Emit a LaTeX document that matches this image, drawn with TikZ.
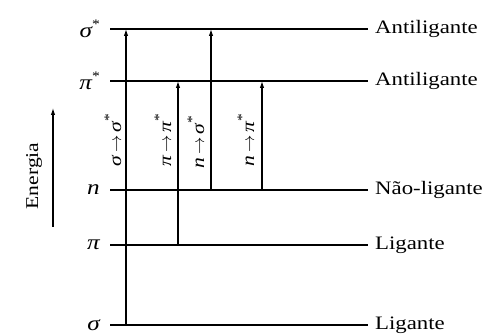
\documentclass[tikz,border=0pt]{standalone}
\usepackage{fontspec}
\setmainfont{Liberation Serif}[FakeStretch=1.2]
\usetikzlibrary{arrows.meta}
\newcommand{\st}{\raisebox{0.45em}{\upshape\fontsize{13}{13}\selectfont *}}
\newcommand{\ar}{\,$\rightarrow$\,}
\begin{document}
\begin{tikzpicture}[x=1pt,y=-1pt,
  level/.style={line width=1.1pt},
  trans/.style={line width=1.1pt,-{Latex[length=7pt,width=4.5pt]}},
  lvlname/.style={anchor=east,inner sep=0pt,font=\fontsize{21}{24}\selectfont\itshape},
  kind/.style={anchor=west,inner sep=0pt,font=\fontsize{19}{22}\selectfont},
  tlabel/.style={rotate=90,inner sep=0pt,font=\fontsize{18}{20}\selectfont\itshape}]
\useasboundingbox (0,0) rectangle (483,334);
% level line endpoints
\coordinate (ssL) at (110,29);  \coordinate (ssR) at (368,29);
\coordinate (psL) at (110,81);  \coordinate (psR) at (368,81);
\coordinate (nL)  at (110,190); \coordinate (nR)  at (368,190);
\coordinate (pL)  at (110,245); \coordinate (pR)  at (368,245);
\coordinate (sL)  at (110,325); \coordinate (sR)  at (368,325);
\draw[level] (ssL) -- (ssR);
\draw[level] (psL) -- (psR);
\draw[level] (nL) -- (nR);
\draw[level] (pL) -- (pR);
\draw[level] (sL) -- (sR);
% level names
\node[lvlname] (lss) at (100,29) {σ\st};
\node[lvlname] (lps) at (100,81) {π\st};
\node[lvlname] (ln)  at (100,190) {n};
\node[lvlname] (lp)  at (100,245) {π};
\node[lvlname] (ls)  at (100,325) {σ};
% kinds
\node[kind] (kss) at (375,29) {Antiligante};
\node[kind] (kps) at (375,81) {Antiligante};
\node[kind] (kn)  at (375,190) {Não-ligante};
\node[kind] (kp)  at (375,245) {Ligante};
\node[kind] (ks)  at (375,325) {Ligante};
% transitions
\coordinate (a1s) at (126,325); \coordinate (a1e) at (126,29);
\coordinate (a2s) at (178,245); \coordinate (a2e) at (178,81);
\coordinate (a3s) at (211,190); \coordinate (a3e) at (211,29);
\coordinate (a4s) at (262,190); \coordinate (a4e) at (262,81);
\draw[trans] (a1s) -- (a1e);
\draw[trans] (a2s) -- (a2e);
\draw[trans] (a3s) -- (a3e);
\draw[trans] (a4s) -- (a4e);
\node[tlabel] (t1) at (113,140) {σ\ar σ\st};
\node[tlabel] (t2) at (163,140) {π\ar π\st};
\node[tlabel] (t3) at (196,142) {n\ar σ\st};
\node[tlabel] (t4) at (246,140) {n\ar π\st};
% energy axis
\coordinate (eb) at (53,227); \coordinate (et) at (53,108);
\draw[trans] (eb) -- (et);
\node[rotate=90,inner sep=0pt,font=\fontsize{18}{21}\selectfont] (en) at (34,176) {Energia};
\end{tikzpicture}
\end{document}
